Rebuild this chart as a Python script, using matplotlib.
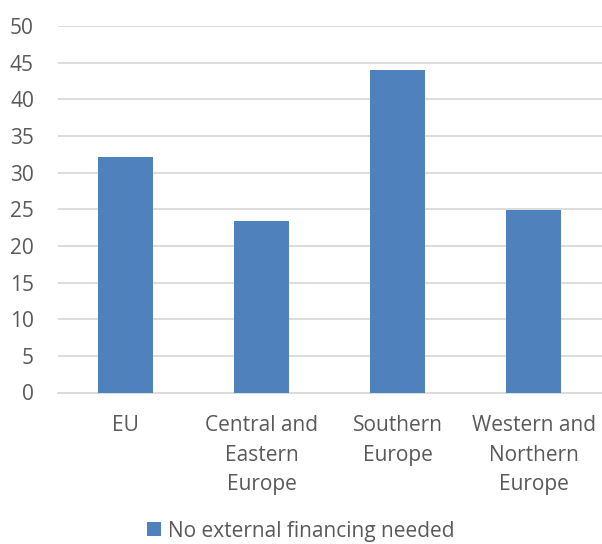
import matplotlib.pyplot as plt
import numpy as np

categories = ['EU', 'Central and\nEastern\nEurope', 'Southern\nEurope', 'Western and\nNorthern\nEurope']
values = [32.1, 23.4, 44.0, 24.9]
series_name = 'No external financing needed'

BAR_COLOR = '#4F81BD'
TEXT_COLOR = '#595959'
GRID_COLOR = '#D9D9D9'

plt.rcParams['font.family'] = ['Open Sans', 'DejaVu Sans']

fig = plt.figure(figsize=[6.02, 5.44], dpi=100)
ax = fig.add_axes([57.5 / 602, 1 - 392.5 / 544, 544 / 602, 366.5 / 544])

x = np.arange(len(categories))
bars = ax.bar(x, values, width=0.40, color=BAR_COLOR, label=series_name, zorder=3)

ax.set_xlim(-0.5, len(categories) - 0.5)
ax.set_ylim(0, 50)
ax.set_yticks(np.arange(0, 51, 5))
ax.yaxis.grid(True, color=GRID_COLOR, linewidth=1.3, zorder=0)
ax.set_axisbelow(True)

for side in ['top', 'right', 'left']:
    ax.spines[side].set_visible(False)
ax.spines['bottom'].set_color(GRID_COLOR)
ax.spines['bottom'].set_linewidth(1.3)

ax.set_xticks(x)
ax.set_xticklabels(categories, linespacing=1.55)
ax.tick_params(axis='both', length=0, labelsize=15, colors=TEXT_COLOR)
ax.tick_params(axis='x', pad=16)
ax.tick_params(axis='y', pad=17)

# legend sits right at the bottom edge, kept just inside the canvas
leg = fig.legend(loc='center', bbox_to_anchor=(0.5, 1 - 531 / 544), frameon=False,
                 handlelength=0.65, handleheight=0.65, handletextpad=0.35,
                 fontsize=15)
for t in leg.get_texts():
    t.set_color(TEXT_COLOR)

plt.savefig('out.png', dpi=100)
